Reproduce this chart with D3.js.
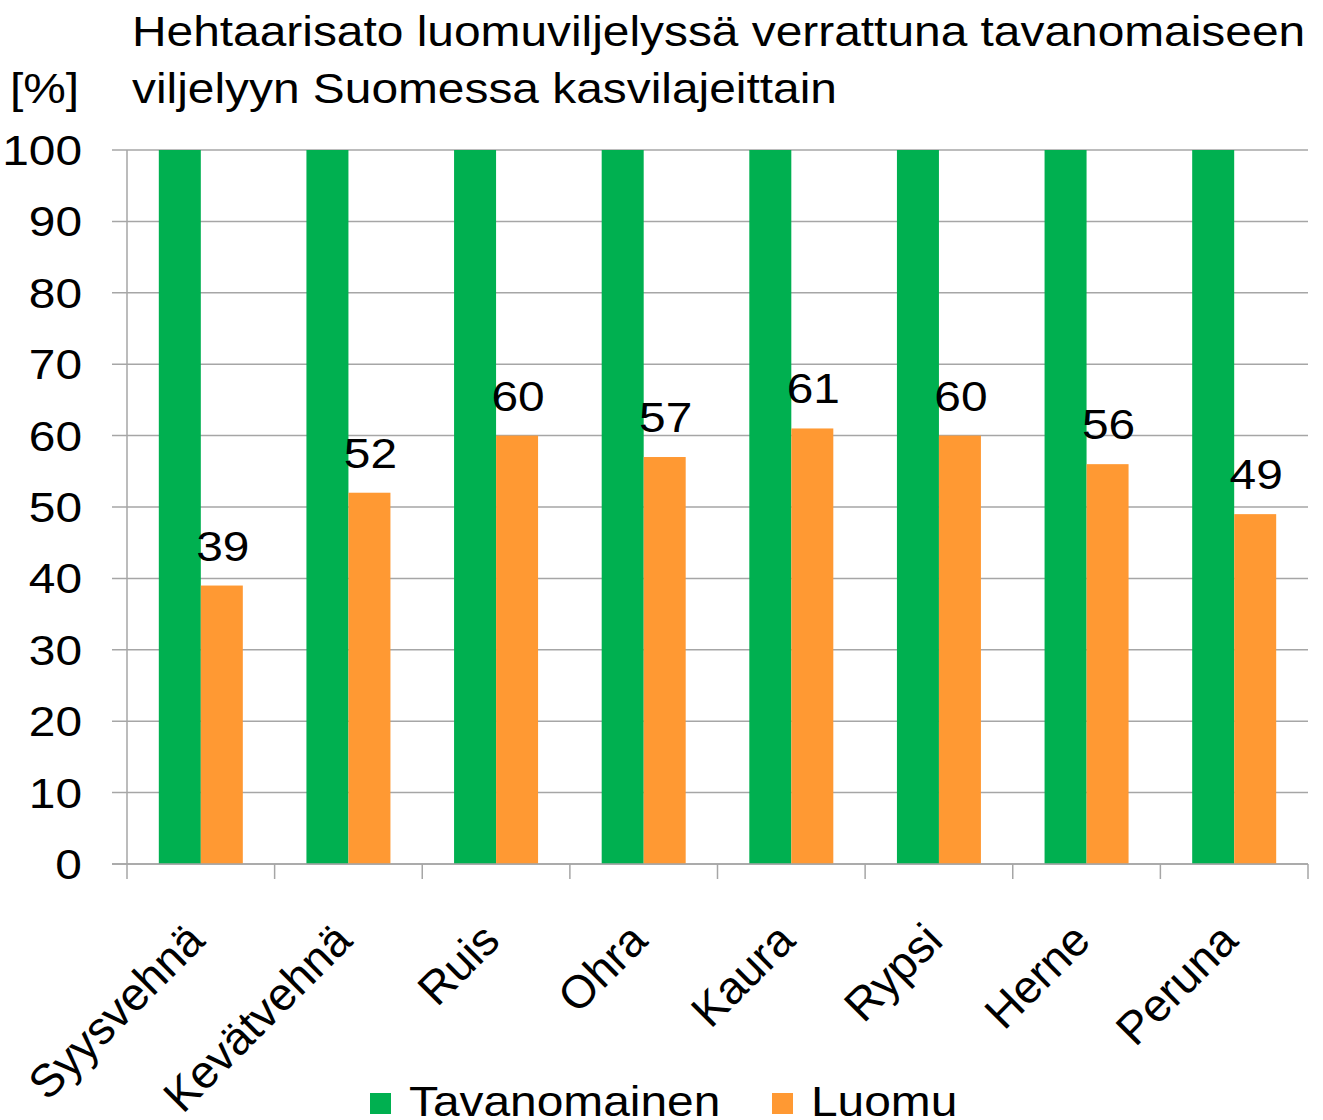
<!DOCTYPE html>
<html>
<head>
<meta charset="utf-8">
<script src="https://cdn.jsdelivr.net/npm/d3@7"></script>
<style>
  body { margin: 0; background: #fff; }
  text { font-family: "Liberation Sans", Arial, sans-serif; fill: #000; }
</style>
</head>
<body>
<div id="chart"></div>
<script>
const categories = ["Syysvehnä", "Kevätvehnä", "Ruis", "Ohra", "Kaura", "Rypsi", "Herne", "Peruna"];
const tavanomainen = [100, 100, 100, 100, 100, 100, 100, 100];
const luomu = [39, 52, 60, 57, 61, 60, 56, 49];
const yTicks = [0, 10, 20, 30, 40, 50, 60, 70, 80, 90, 100];
const seriesNames = ["Tavanomainen", "Luomu"];
const colors = ["#00B050", "#FF9933"];

const width = 1323, height = 1120;
const margin = { top: 150, right: 15, bottom: 256, left: 127 };
const fontSize = 42;
const stretch = 1.14; // text in the picture is a bit wider than plain Arial

const svg = d3.select("#chart").append("svg")
  .attr("width", width)
  .attr("height", height)
  .attr("viewBox", [0, 0, width, height]);

// place a horizontally stretched text at (x, y)
function placeText(sel, fx, fy) {
  return sel.attr("transform", (d, i) => `translate(${fx(d, i)},${fy(d, i)}) scale(${stretch},1)`)
    .attr("font-size", fontSize);
}

const x = d3.scaleBand()
  .domain(categories)
  .range([margin.left, width - margin.right])
  .paddingInner(0)
  .paddingOuter(0);

const y = d3.scaleLinear()
  .domain([0, 100])
  .range([height - margin.bottom, margin.top]);

const barW = 42;

// gridlines (extending left as tick marks)
svg.append("g")
  .selectAll("line")
  .data(yTicks)
  .join("line")
  .attr("x1", margin.left - 15)
  .attr("x2", width - margin.right)
  .attr("y1", d => y(d))
  .attr("y2", d => y(d))
  .attr("stroke", "#a6a6a6")
  .attr("stroke-width", 1.5);

// y axis line
svg.append("line")
  .attr("x1", margin.left).attr("x2", margin.left)
  .attr("y1", y(100)).attr("y2", y(0))
  .attr("stroke", "#a6a6a6").attr("stroke-width", 1.5);

// y tick labels
svg.append("g")
  .selectAll("text")
  .data(yTicks)
  .join("text")
  .call(placeText, () => 82, d => y(d) + 15)
  .attr("text-anchor", "end")
  .text(d => d);

// bars
const groups = svg.append("g")
  .selectAll("g")
  .data(categories)
  .join("g")
  .attr("transform", d => `translate(${x(d) + x.bandwidth() / 2},0)`);

groups.append("rect")
  .attr("x", -barW)
  .attr("width", barW)
  .attr("y", (d, i) => y(tavanomainen[i]))
  .attr("height", (d, i) => y(0) - y(tavanomainen[i]))
  .attr("fill", colors[0]);

groups.append("rect")
  .attr("x", 0)
  .attr("width", barW)
  .attr("y", (d, i) => y(luomu[i]))
  .attr("height", (d, i) => y(0) - y(luomu[i]))
  .attr("fill", colors[1]);

groups.append("text")
  .call(placeText, () => barW / 2 + 1, (d, i) => y(luomu[i]) - 25)
  .attr("text-anchor", "middle")
  .text((d, i) => luomu[i]);

// x axis line and ticks
const x0 = y(0);
svg.append("line")
  .attr("x1", margin.left - 15).attr("x2", width - margin.right)
  .attr("y1", x0).attr("y2", x0)
  .attr("stroke", "#a6a6a6").attr("stroke-width", 1.5);

const tickXs = categories.map(c => x(c)).concat([x.range()[1]]);
svg.append("g")
  .selectAll("line")
  .data(tickXs)
  .join("line")
  .attr("x1", d => d).attr("x2", d => d)
  .attr("y1", x0).attr("y2", x0 + 15)
  .attr("stroke", "#a6a6a6").attr("stroke-width", 1.5);

// rotated category labels
svg.append("g")
  .selectAll("text")
  .data(categories)
  .join("text")
  .attr("transform", d => `translate(${x(d) + x.bandwidth() / 2 + 6},${x0 + 79}) rotate(-45)`)
  .attr("text-anchor", "end")
  .attr("font-size", 46)
  .text(d => d);

// title
svg.append("text")
  .call(placeText, () => 132, () => 46)
  .text("Hehtaarisato luomuviljelyssä verrattuna tavanomaiseen");
svg.append("text")
  .call(placeText, () => 132, () => 103)
  .text("viljelyyn Suomessa kasvilajeittain");
svg.append("text")
  .call(placeText, () => 10, () => 103)
  .text("[%]");

// legend
const legendX = [370, 772];
const legend = svg.append("g")
  .selectAll("g")
  .data(seriesNames)
  .join("g")
  .attr("transform", (d, i) => `translate(${legendX[i]},1093)`);

legend.append("rect")
  .attr("width", 21).attr("height", 21)
  .attr("fill", (d, i) => colors[i]);

legend.append("text")
  .call(placeText, () => 39, () => 23)
  .text(d => d);
</script>
</body>
</html>
